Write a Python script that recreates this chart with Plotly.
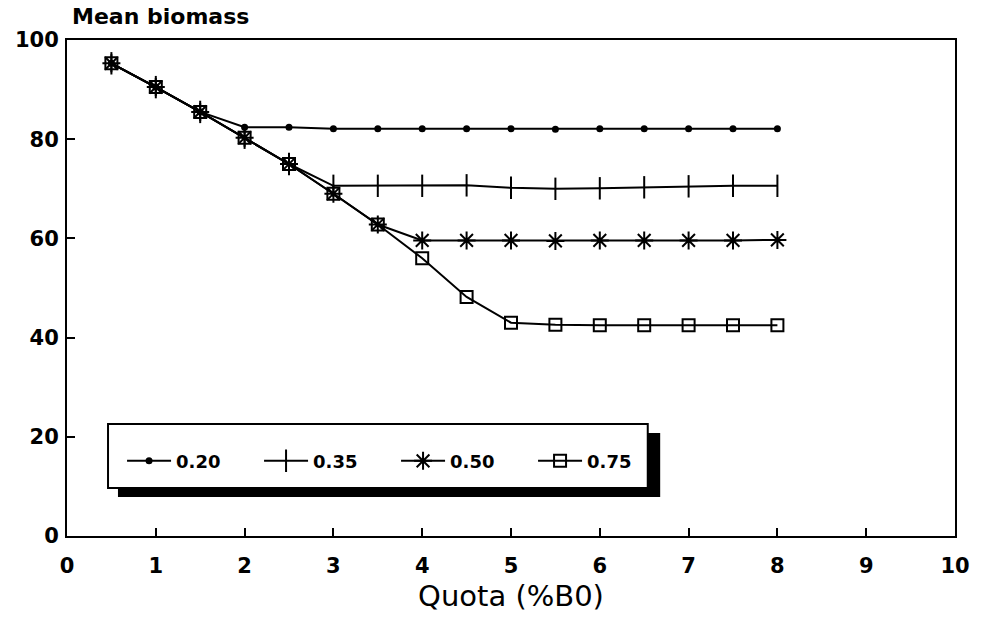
import plotly.graph_objects as go

quota = [0.5, 1, 1.5, 2, 2.5, 3, 3.5, 4, 4.5, 5, 5.5, 6, 6.5, 7, 7.5, 8]

b020 = [95.3, 90.5, 85.5, 82.4, 82.4, 82.1, 82.1, 82.1, 82.1, 82.1, 82.0, 82.1, 82.1, 82.1, 82.1, 82.1]
b035 = [95.3, 90.5, 85.5, 80.3, 75.0, 70.6, 70.6, 70.6, 70.7, 70.2, 70.0, 70.1, 70.3, 70.5, 70.6, 70.6]
b050 = [95.3, 90.5, 85.5, 80.3, 75.0, 69.0, 62.8, 59.6, 59.6, 59.6, 59.5, 59.6, 59.6, 59.6, 59.6, 59.7]
b075 = [95.3, 90.5, 85.5, 80.3, 75.0, 69.0, 62.8, 56.0, 48.2, 43.0, 42.6, 42.5, 42.5, 42.5, 42.5, 42.5]

series_names = ["0.20", "0.35", "0.50", "0.75"]
series_vals = [b020, b035, b050, b075]
symbols = ["circle", "line-ns-open", "asterisk-open", "square-open"]
sizes = [5, 16, 15, 12]

x_ticks = list(range(0, 11))
y_ticks = [0, 20, 40, 60, 80, 100]

fig = go.Figure()
for name, vals, sym, sz in zip(series_names, series_vals, symbols, sizes):
    fig.add_trace(go.Scatter(
        x=quota, y=vals, name=name, mode="lines+markers",
        line=dict(color="black", width=2),
        marker=dict(symbol=sym, size=sz, color="black",
                    line=dict(color="black", width=2)),
    ))

tickfont = dict(family="DejaVu Sans", size=21, color="black", weight="bold")

fig.update_layout(
    width=982, height=631,
    margin=dict(l=67, r=27, t=40, b=95),
    paper_bgcolor="white", plot_bgcolor="white",
    showlegend=True,
    legend=dict(
        orientation="h", x=0.062, xanchor="left", y=0.151, yanchor="middle",
        bgcolor="rgba(0,0,0,0)", borderwidth=0,
        font=dict(family="DejaVu Sans", size=18, color="black", weight="bold"),
        itemwidth=44,
        entrywidth=78, entrywidthmode="pixels",
    ),
    xaxis=dict(
        range=[0, 10], tickvals=x_ticks, ticktext=[str(v) for v in x_ticks],
        ticks="inside", ticklen=8, tickwidth=2, tickcolor="black",
        showline=True, linecolor="black", linewidth=2, mirror=True,
        showgrid=False, zeroline=False, tickfont=tickfont,
        ticklabelstandoff=10,
        title=dict(text="Quota (%B0)", standoff=8,
                   font=dict(family="DejaVu Sans", size=29, color="black")),
    ),
    yaxis=dict(
        range=[0, 100], tickvals=y_ticks, ticktext=[str(v) for v in y_ticks],
        ticks="inside", ticklen=8, tickwidth=2, tickcolor="black",
        showline=True, linecolor="black", linewidth=2, mirror=True,
        showgrid=False, zeroline=False, tickfont=tickfont,
        ticklabelstandoff=2,
    ),
    annotations=[dict(
        text="Mean biomass", xref="paper", yref="paper", x=0, y=1,
        xanchor="left", yanchor="bottom", xshift=3, yshift=9, showarrow=False,
        font=dict(family="DejaVu Sans", size=22, color="black", weight="bold"),
    )],
    shapes=[
        dict(type="rect", xref="paper", yref="paper",
             x0=0.0574, x1=0.668, y0=0.0786, y1=0.2077,
             fillcolor="black", line=dict(width=0), layer="above"),
        dict(type="rect", xref="paper", yref="paper",
             x0=0.0462, x1=0.654, y0=0.0968, y1=0.2258,
             fillcolor="white", line=dict(color="black", width=2), layer="above"),
    ],
)

fig.write_html("out.html")
